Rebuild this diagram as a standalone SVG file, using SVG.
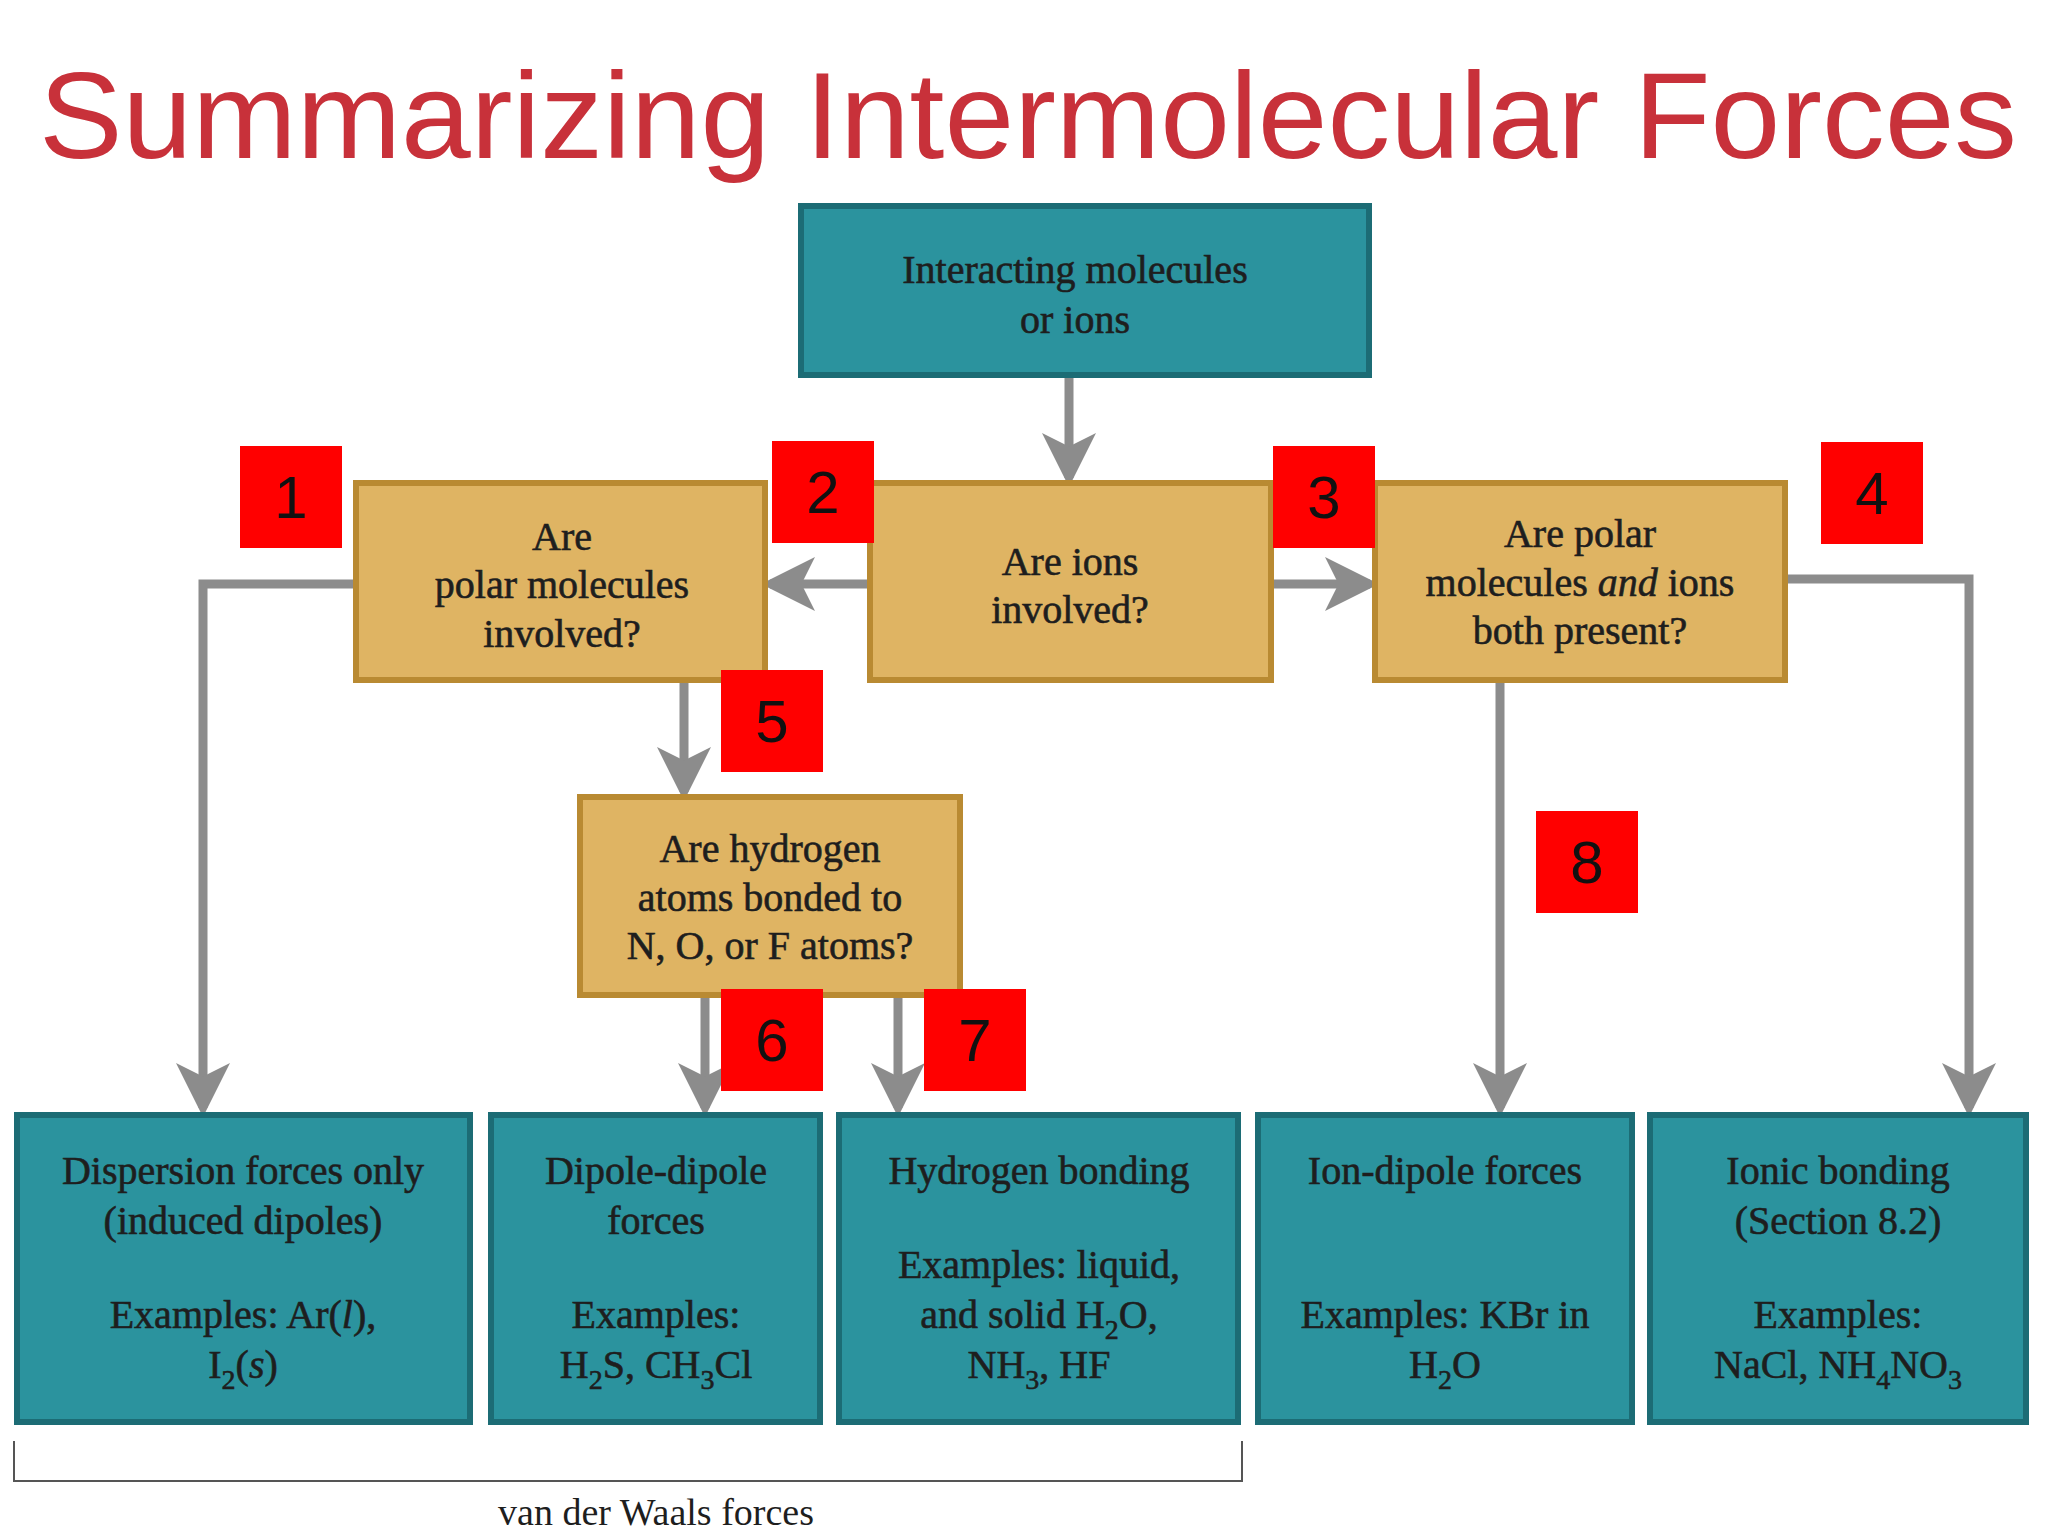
<svg xmlns="http://www.w3.org/2000/svg" width="2048" height="1536" viewBox="0 0 2048 1536">
<style>
.teal{fill:#2b939e;stroke:#1c6c75;stroke-width:6}
.gold{fill:#dfb463;stroke:#b98a32;stroke-width:6}
.t{font-family:"Liberation Serif",serif;font-size:40px;fill:#1e1e1e;stroke:#1e1e1e;stroke-width:0.6;text-anchor:middle;dominant-baseline:central}
.num{font-family:"Liberation Sans",sans-serif;font-size:60px;fill:#111;text-anchor:middle;dominant-baseline:central}
.c{fill:none;stroke:#8c8c8c;stroke-width:9}
.sub{font-size:28px}
</style>
<defs><marker id="ah" markerWidth="6" markerHeight="6" refX="5" refY="3" orient="auto" markerUnits="strokeWidth"><path d="M0,0 L6,3 L0,6 L1.5,3 z" fill="#8c8c8c"/></marker></defs>
<rect width="2048" height="1536" fill="#fff"/>
<text x="39" y="116" font-family="Liberation Sans,sans-serif" font-size="122" fill="#c8313a" dominant-baseline="central" textLength="1978" lengthAdjust="spacingAndGlyphs">Summarizing Intermolecular Forces</text>
<g id="connectors">
<path class="c" d="M1069,375 V478" marker-end="url(#ah)"/>
<path class="c" d="M870,584 H770" marker-end="url(#ah)"/>
<path class="c" d="M1271,584 H1370" marker-end="url(#ah)"/>
<path class="c" d="M356,584 H203 V1108" marker-end="url(#ah)"/>
<path class="c" d="M684,680 V792" marker-end="url(#ah)"/>
<path class="c" d="M705,995 V1108" marker-end="url(#ah)"/>
<path class="c" d="M898,995 V1108" marker-end="url(#ah)"/>
<path class="c" d="M1500,680 V1108" marker-end="url(#ah)"/>
<path class="c" d="M1785,579 H1969 V1108" marker-end="url(#ah)"/>
</g>
<g id="top"><rect class="teal" x="801" y="206" width="568" height="169"/><text class="t" x="1075" y="269">Interacting molecules</text><text class="t" x="1075" y="319">or ions</text></g>
<g id="polar"><rect class="gold" x="356" y="483" width="409" height="197"/><text class="t" x="562" y="536">Are</text><text class="t" x="562" y="584">polar molecules</text><text class="t" x="562" y="633">involved?</text></g>
<g id="ions"><rect class="gold" x="870" y="483" width="401" height="197"/><text class="t" x="1070" y="561">Are ions</text><text class="t" x="1070" y="609">involved?</text></g>
<g id="both"><rect class="gold" x="1375" y="483" width="410" height="197"/><text class="t" x="1580" y="533">Are polar</text><text class="t" x="1580" y="582">molecules <tspan font-style="italic">and</tspan> ions</text><text class="t" x="1580" y="630">both present?</text></g>
<g id="hydrogen"><rect class="gold" x="580" y="797" width="380" height="198"/><text class="t" x="770" y="848">Are hydrogen</text><text class="t" x="770" y="897">atoms bonded to</text><text class="t" x="770" y="945">N, O, or F atoms?</text></g>
<g id="b1"><rect class="teal" x="17" y="1115" width="453" height="307"/><text class="t" x="243" y="1170">Dispersion forces only</text><text class="t" x="243" y="1220">(induced dipoles)</text><text class="t" x="243" y="1314">Examples: Ar(<tspan font-style="italic">l</tspan>),</text><text class="t" x="243" y="1364">I<tspan class="sub" baseline-shift="sub">2</tspan>(<tspan font-style="italic">s</tspan>)</text></g>
<g id="b2"><rect class="teal" x="491" y="1115" width="329" height="307"/><text class="t" x="656" y="1170">Dipole-dipole</text><text class="t" x="656" y="1220">forces</text><text class="t" x="656" y="1314">Examples:</text><text class="t" x="656" y="1364">H<tspan class="sub" baseline-shift="sub">2</tspan>S, CH<tspan class="sub" baseline-shift="sub">3</tspan>Cl</text></g>
<g id="b3"><rect class="teal" x="839" y="1115" width="399" height="307"/><text class="t" x="1039" y="1170">Hydrogen bonding</text><text class="t" x="1039" y="1264">Examples: liquid,</text><text class="t" x="1039" y="1314">and solid H<tspan class="sub" baseline-shift="sub">2</tspan>O,</text><text class="t" x="1039" y="1364">NH<tspan class="sub" baseline-shift="sub">3</tspan>, HF</text></g>
<g id="b4"><rect class="teal" x="1258" y="1115" width="374" height="307"/><text class="t" x="1445" y="1170">Ion-dipole forces</text><text class="t" x="1445" y="1314">Examples: KBr in</text><text class="t" x="1445" y="1364">H<tspan class="sub" baseline-shift="sub">2</tspan>O</text></g>
<g id="b5"><rect class="teal" x="1650" y="1115" width="376" height="307"/><text class="t" x="1838" y="1170">Ionic bonding</text><text class="t" x="1838" y="1220">(Section 8.2)</text><text class="t" x="1838" y="1314">Examples:</text><text class="t" x="1838" y="1364">NaCl, NH<tspan class="sub" baseline-shift="sub">4</tspan>NO<tspan class="sub" baseline-shift="sub">3</tspan></text></g>
<g id="labels" fill="#f00">
<rect x="240" y="446" width="102" height="102"/><text class="num" x="291" y="497">1</text>
<rect x="772" y="441" width="102" height="102"/><text class="num" x="823" y="492">2</text>
<rect x="1273" y="446" width="102" height="102"/><text class="num" x="1324" y="497">3</text>
<rect x="1821" y="442" width="102" height="102"/><text class="num" x="1872" y="493">4</text>
<rect x="721" y="670" width="102" height="102"/><text class="num" x="772" y="721">5</text>
<rect x="721" y="989" width="102" height="102"/><text class="num" x="772" y="1040">6</text>
<rect x="924" y="989" width="102" height="102"/><text class="num" x="975" y="1040">7</text>
<rect x="1536" y="811" width="102" height="102"/><text class="num" x="1587" y="862">8</text>
</g>
<g id="bracket"><path d="M14,1441 V1481 H1242 V1441" fill="none" stroke="#555" stroke-width="2"/><text x="656" y="1512" font-family="Liberation Serif,serif" font-size="38" fill="#1e1e1e" text-anchor="middle" dominant-baseline="central">van der Waals forces</text></g>
</svg>
